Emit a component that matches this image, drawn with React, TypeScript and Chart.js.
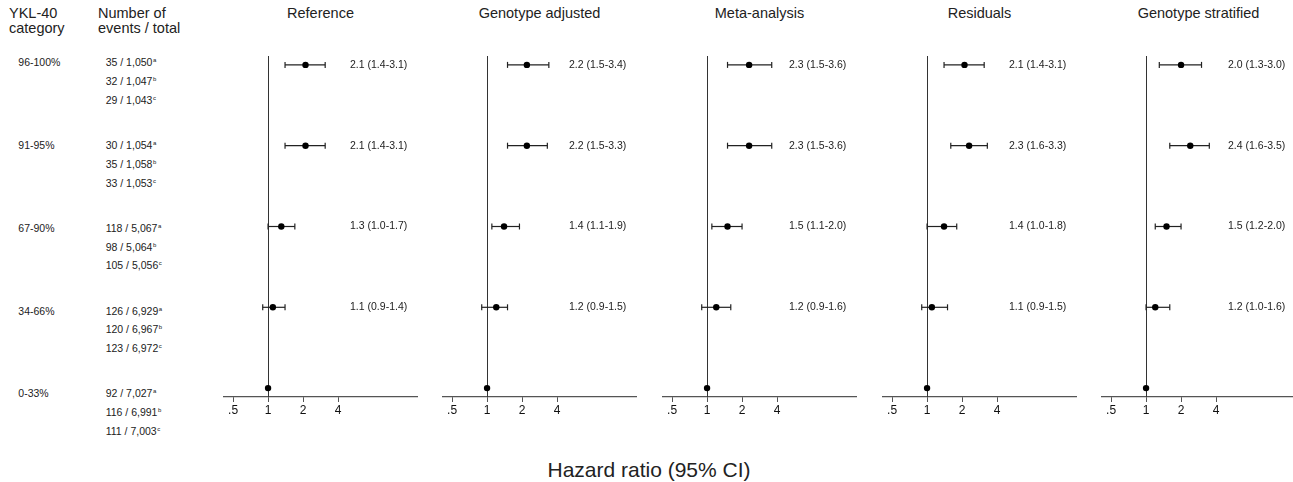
import React, { useEffect, useRef } from "react";
import { Chart, registerables } from "chart.js";

Chart.register(...registerables);

// ---------- data ----------
const categories = ["96-100%", "91-95%", "67-90%", "34-66%", "0-33%"];
const countsA = ["35 / 1,050", "30 / 1,054", "118 / 5,067", "126 / 6,929", "92 / 7,027"];
const countsB = ["32 / 1,047", "35 / 1,058", "98 / 5,064", "120 / 6,967", "116 / 6,991"];
const countsC = ["29 / 1,043", "33 / 1,053", "105 / 5,056", "123 / 6,972", "111 / 7,003"];

const panelTitles = ["Reference", "Genotype adjusted", "Meta-analysis", "Residuals", "Genotype stratified"];

const hrReference = [2.1, 2.1, 1.3, 1.1, 1];
const loReference = [1.4, 1.4, 1.0, 0.9, null];
const hiReference = [3.1, 3.1, 1.7, 1.4, null];

const hrGenotypeAdjusted = [2.2, 2.2, 1.4, 1.2, 1];
const loGenotypeAdjusted = [1.5, 1.5, 1.1, 0.9, null];
const hiGenotypeAdjusted = [3.4, 3.3, 1.9, 1.5, null];

const hrMeta = [2.3, 2.3, 1.5, 1.2, 1];
const loMeta = [1.5, 1.5, 1.1, 0.9, null];
const hiMeta = [3.6, 3.6, 2.0, 1.6, null];

const hrResiduals = [2.1, 2.3, 1.4, 1.1, 1];
const loResiduals = [1.4, 1.6, 1.0, 0.9, null];
const hiResiduals = [3.1, 3.3, 1.8, 1.5, null];

const hrStratified = [2.0, 2.4, 1.5, 1.2, 1];
const loStratified = [1.3, 1.6, 1.2, 1.0, null];
const hiStratified = [3.0, 3.5, 2.0, 1.6, null];

const tickValues = [0.5, 1, 2, 4];
const tickLabels = [".5", "1", "2", "4"];
const xAxisTitle = "Hazard ratio (95% CI)";

const panelHR = [hrReference, hrGenotypeAdjusted, hrMeta, hrResiduals, hrStratified];
const panelLo = [loReference, loGenotypeAdjusted, loMeta, loResiduals, loStratified];
const panelHi = [hiReference, hiGenotypeAdjusted, hiMeta, hiResiduals, hiStratified];

// ---------- layout ----------
const FONT = "'Liberation Sans', Arial, Helvetica, sans-serif";
const panelLefts = [214, 433, 653, 873, 1092];
const CANVAS_W = 213;
const CANVAS_H = 440;
const X_MIN = 0.418;
const X_MAX = 19.1;
const LABEL_AT = 5.07;

const fmt = (v: number) => v.toFixed(1);

const refLinePlugin = {
  id: "refLine",
  beforeDatasetsDraw(chart: any) {
    const { ctx, chartArea, scales } = chart;
    const x = Math.round(scales.x.getPixelForValue(1)) + 0.5;
    ctx.save();
    ctx.strokeStyle = "#333";
    ctx.lineWidth = 1;
    ctx.beginPath();
    ctx.moveTo(x, chartArea.top);
    ctx.lineTo(x, chartArea.bottom);
    ctx.stroke();
    ctx.restore();
  },
};

function makeLabelPlugin(hr: number[], lo: (number | null)[], hi: (number | null)[]) {
  return {
    id: "estLabels",
    afterDatasetsDraw(chart: any) {
      const { ctx, scales } = chart;
      ctx.save();
      ctx.font = `10.5px ${FONT}`;
      ctx.fillStyle = "#222";
      ctx.textAlign = "left";
      ctx.textBaseline = "middle";
      hr.forEach((v, i) => {
        if (lo[i] == null || hi[i] == null) return;
        const txt = `${fmt(v)} (${fmt(lo[i] as number)}-${fmt(hi[i] as number)})`;
        ctx.fillText(txt, scales.x.getPixelForValue(LABEL_AT), scales.y.getPixelForValue(i));
      });
      ctx.restore();
    },
  };
}

function ForestPanel({ idx }: { idx: number }) {
  const ref = useRef<HTMLCanvasElement | null>(null);
  useEffect(() => {
    const hr = panelHR[idx];
    const lo = panelLo[idx];
    const hi = panelHi[idx];
    const datasets: any[] = [
      {
        data: hr.map((v, i) => ({ x: v, y: i })),
        pointRadius: 3.2,
        pointBackgroundColor: "#000",
        pointBorderColor: "#000",
        pointBorderWidth: 0,
        showLine: false,
      },
    ];
    hr.forEach((_, i) => {
      if (lo[i] == null || hi[i] == null) return;
      datasets.push({
        data: [
          { x: lo[i], y: i },
          { x: hi[i], y: i },
        ],
        showLine: true,
        borderColor: "#222",
        borderWidth: 1.2,
        pointStyle: "line",
        pointRadius: 3,
        pointRotation: 90,
        pointBorderColor: "#222",
        pointBorderWidth: 1.2,
      });
    });
    const chart = new Chart(ref.current as HTMLCanvasElement, {
      type: "scatter",
      data: { datasets },
      plugins: [refLinePlugin, makeLabelPlugin(hr, lo, hi)],
      options: {
        animation: false,
        responsive: false,
        devicePixelRatio: 1,
        layout: { padding: { left: 10, right: 10, top: 56, bottom: 13 } },
        plugins: { legend: { display: false }, tooltip: { enabled: false }, title: { display: false } },
        scales: {
          x: {
            type: "logarithmic",
            min: X_MIN,
            max: X_MAX,
            afterBuildTicks: (s: any) => {
              s.ticks = tickValues.map((v) => ({ value: v }));
            },
            afterFit: (s: any) => {
              s.height = 30;
            },
            grid: { display: true, drawOnChartArea: false, drawTicks: true, tickLength: 5, color: "#555", lineWidth: 1 },
            border: { display: true, color: "#555", width: 1.2 },
            ticks: {
              autoSkip: false,
              maxRotation: 0,
              padding: 1,
              color: "#111",
              font: { family: FONT, size: 12 },
              callback: (_v: any, i: number) => tickLabels[i],
            },
          },
          y: {
            type: "linear",
            min: -0.11,
            max: 4.11,
            reverse: true,
            display: false,
          },
        },
      } as any,
    });
    return () => chart.destroy();
  }, [idx]);
  return (
    <canvas
      ref={ref}
      width={CANVAS_W}
      height={CANVAS_H}
      style={{ position: "absolute", left: panelLefts[idx], top: 0, width: CANVAS_W, height: CANVAS_H }}
    />
  );
}

function Txt({ x, y, size, children, center }: any) {
  const lh = size * 1.3;
  return (
    <div
      style={{
        position: "absolute",
        left: x,
        top: y - lh / 2,
        fontSize: size,
        lineHeight: `${lh}px`,
        whiteSpace: "nowrap",
        transform: center ? "translateX(-50%)" : undefined,
      }}
    >
      {children}
    </div>
  );
}

const sup = (s: string) => (
  <span style={{ fontSize: 6, position: "relative", top: -4, marginLeft: 0.5 }}>{s}</span>
);

export default function App() {
  const rowY = (k: number) => 63.3 + 82.7 * k;
  return (
    <div
      style={{
        position: "absolute",
        left: 0,
        top: 0,
        width: 1293,
        height: 482,
        background: "#fff",
        fontFamily: FONT,
        color: "#222",
        overflow: "hidden",
      }}
    >
      <Txt x={9} y={13.3} size={14.5}>YKL-40</Txt>
      <Txt x={9} y={28} size={14.5}>category</Txt>
      <Txt x={98} y={13.3} size={14.5}>Number of</Txt>
      <Txt x={98} y={28} size={14.5}>events / total</Txt>

      {categories.map((c, k) => (
        <React.Fragment key={c}>
          <Txt x={18.3} y={rowY(k)} size={10.5}>{c}</Txt>
          <Txt x={105.7} y={rowY(k)} size={10.5}>
            {countsA[k]}
            {sup("a")}
          </Txt>
          <Txt x={105.7} y={rowY(k) + 18.7} size={10.5}>
            {countsB[k]}
            {sup("b")}
          </Txt>
          <Txt x={105.7} y={rowY(k) + 37.4} size={10.5}>
            {countsC[k]}
            {sup("c")}
          </Txt>
        </React.Fragment>
      ))}

      {panelTitles.map((t, i) => (
        <Txt key={t} x={panelLefts[i] + 10 + 96.5} y={13.3} size={14.5} center>
          {t}
        </Txt>
      ))}

      {panelTitles.map((t, i) => (
        <ForestPanel key={"p" + t} idx={i} />
      ))}

      <Txt x={649} y={470} size={21} center>
        {xAxisTitle}
      </Txt>
    </div>
  );
}
